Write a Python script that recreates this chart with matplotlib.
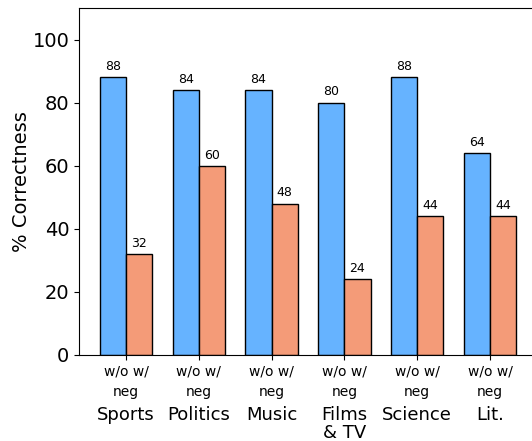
import matplotlib
matplotlib.use("Agg")
import matplotlib.pyplot as plt
import numpy as np

categories = ["Sports", "Politics", "Music", "Films\n& TV", "Science", "Lit."]
without_neg = [88, 84, 84, 80, 88, 64]
with_neg = [32, 60, 48, 24, 44, 44]
tick_label = "w/o w/\nneg"

fig = plt.figure(figsize=(5.32, 4.41), dpi=100)
ax = fig.add_axes([79/532, (441-355)/441, (537-79)/532, (355-8)/441])

x = np.arange(len(categories))
w = 0.36
b1 = ax.bar(x - w/2, without_neg, w, color="#66B3FF", edgecolor="black", linewidth=1)
b2 = ax.bar(x + w/2, with_neg, w, color="#F49B78", edgecolor="black", linewidth=1)
for bars in (b1, b2):
    ax.bar_label(bars, padding=3, fontsize=9)

ax.set_ylim(0, 110)
ax.set_yticks([0, 20, 40, 60, 80, 100])
ax.tick_params(axis="y", labelsize=14)
ax.set_ylabel("% Correctness", fontsize=14, labelpad=1)
ax.set_xticks(x)
ax.set_xticklabels([tick_label] * len(categories), fontsize=10, linespacing=1.6)

for xi, c in zip(x, categories):
    ax.annotate(c, xy=(xi, 0), xycoords=("data", "axes fraction"),
                xytext=(0, -37), textcoords="offset points",
                ha="center", va="top", fontsize=13, linespacing=1.0)

fig.savefig("out.png", dpi=100)
